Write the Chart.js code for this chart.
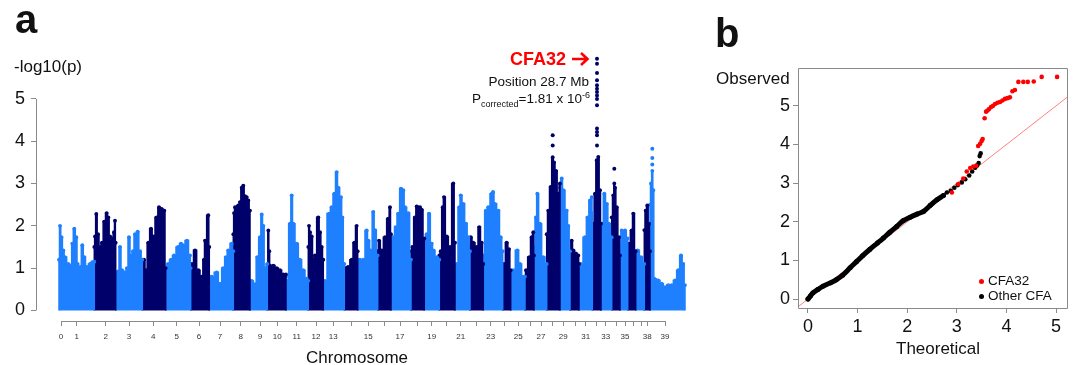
<!DOCTYPE html>
<html>
<head>
<meta charset="utf-8">
<script src="https://cdn.jsdelivr.net/npm/chart.js@4.4.1/dist/chart.umd.min.js"></script>
<style>
  body { margin: 0; width: 1073px; height: 365px; position: relative; background: #fff; overflow: hidden;
         font-family: 'Liberation Sans', Arial, sans-serif; color: #111; }
  .wrap { position: absolute; top: 0; height: 365px; }
  .t { position: absolute; line-height: 1; white-space: nowrap; }
  .t sub, .t sup { font-size: 9px; line-height: 0; }
  .dot { position: absolute; width: 5px; height: 5px; border-radius: 50%; }
</style>
</head>
<body>
<div class="wrap" style="left:0;width:700px"><canvas id="manhattan"></canvas></div>
<div class="wrap" style="left:700px;width:373px"><canvas id="qq"></canvas></div>

<div class="t" style="left:15px;top:-1px;font-size:40px;font-weight:bold">a</div>
<div class="t" style="left:715px;top:13px;font-size:40px;font-weight:bold">b</div>
<div class="t" style="left:14px;top:58px;font-size:17px">-log10(p)</div>
<div class="t" style="left:306px;top:349px;font-size:17px">Chromosome</div>
<div class="t" style="left:510px;top:50px;font-size:18px;font-weight:bold;color:#ff0000">CFA32</div>
<svg style="position:absolute;left:571px;top:51px" width="19" height="16" viewBox="0 0 19 16">
  <path d="M1 8 H16 M10 2 L16.5 8 L10 14" fill="none" stroke="#ff0000" stroke-width="2.6" stroke-linejoin="miter"/>
</svg>
<div class="t" style="right:484px;top:75px;font-size:13.5px">Position 28.7 Mb</div>
<div class="t" style="right:483px;top:92px;font-size:13.5px">P<sub>corrected</sub>=1.81 x 10<sup>-6</sup></div>
<div class="t" style="left:716px;top:70px;font-size:17px">Observed</div>
<div class="t" style="left:896px;top:340px;font-size:17px">Theoretical</div>
<span class="dot" style="left:979px;top:279px;background:#ff0000"></span>
<div class="t" style="left:988px;top:274px;font-size:13.5px">CFA32</div>
<span class="dot" style="left:979px;top:294px;background:#000"></span>
<div class="t" style="left:988px;top:289px;font-size:13.5px">Other CFA</div>

<script>
// panel a: upper outline of the point cloud of each chromosome block (cumulative position, -log10 p)
const blockSizes = [19, 14, 13, 11, 10, 9, 9, 11, 9, 9, 10, 10, 10, 6, 9, 7, 9, 7, 7, 8, 8, 7, 9, 5, 6, 6, 6, 8, 6, 6, 7, 7, 6, 7, 4, 5, 4, 5, 15];

const envPos = [
  -2, -1, 0.5, 2.3, 4, 7.3, 10, 11.3, 13.3, 15.3, 16.7, 18, 19.3, 21.3, 23.3, 25.7, 29, 31.3, 33.3,
  33.3, 34, 35.3, 37, 39, 41, 43.3, 45.7, 47.3, 49, 51.3, 53, 54, 54.7,
  54.7, 57, 59, 61, 64, 66, 68, 70, 72, 74, 76.7, 79, 81.3,
  81.3, 83, 85, 87.3, 90, 92.3, 95.7, 98, 100.7, 103.3, 104.7,
  104.7, 107, 110, 113, 117, 120, 122, 126, 129, 129.7,
  129.7, 131, 134, 137.3, 140.7, 143, 144, 147.3, 148.3,
  148.3, 150.7, 155.7, 159, 162.3, 165, 167.3, 170.7, 172.3,
  172.3, 173, 174, 177.3, 179, 180.7, 182.3, 184, 185.7, 187.3, 189,
  189, 190.7, 194, 196.3, 199, 200.7, 202.3, 204, 206.3,
  206.3, 207.3, 208.3, 209, 212.3, 215.7, 219, 222.3, 225,
  225, 226.3, 229, 230.7, 232.3, 235.7, 239, 242.3, 245.7, 247.3,
  247.3, 248, 249, 250.7, 252.3, 254, 257.3, 259, 260.7, 262.3,
  262.3, 264, 268, 270.7, 273.3, 275.7, 277.3, 280, 281.3, 283.3,
  283.3, 287, 290.7, 293.3, 295.7, 296.7,
  296.7, 299, 302.3, 305.7, 307.3, 310, 312.3, 314, 316.7,
  316.7, 318, 320.7, 324, 327.3, 329, 330,
  330, 332.3, 334.7, 337.3, 340, 342.3, 344, 347.3, 350,
  350, 351.3, 354, 355.7, 359, 360.7, 363.3,
  363.3, 365.7, 368, 370.7, 372.3, 375.7, 378.3,
  378.3, 379.7, 381.7, 383, 385.7, 389, 392.3, 394,
  394, 395.7, 398.3, 399.7, 402.3, 405, 407.3, 409,
  409, 409.7, 412.3, 415.7, 418.3, 420.7, 422.3,
  422.3, 425, 427.3, 430.7, 432, 434, 437.3, 439.7, 441.7,
  441.7, 443, 445.7, 448, 449.7,
  449.7, 452.3, 456.3, 459, 462.3, 464,
  464, 465, 468.3, 470.7, 472.3, 473,
  473, 475, 476.3, 479, 482.3, 485.7,
  485.7, 487.3, 489.7, 491.7, 493, 495, 497.3, 499,
  499, 500.7, 502.3, 505.7, 507.3, 509,
  509, 510.7, 512.3, 514.7, 517.3, 518,
  518, 520, 524, 526.7, 529, 530.7, 531.3,
  531.3, 532.3, 534, 535.7, 537.3, 539, 540,
  540, 541.3, 543.3, 545.7, 548, 550.7,
  550.7, 552.3, 553.3, 554, 555.7, 558, 559,
  559, 560.7, 564, 566.7,
  566.7, 568, 570.7, 572.3, 574.7,
  574.7, 576.7, 580, 583.3,
  583.3, 584.7, 586.3, 588, 589,
  589, 590, 591.3, 592.3, 593.3, 597.3, 600.7, 604, 607.3, 610.7, 614, 617.3, 620, 622.3, 624
];

const envLogP = [
  1.2, 2.0, 1.73, 1.42, 1.26, 1.1, 1.05, 1.58, 1.93, 1.73, 1.1, 0.71, 1.03, 1.54, 1.26, 1.03, 1.1, 1.14, 1.15,
  1.5, 1.75, 2.28, 1.8, 1.5, 1.6, 2.1, 2.3, 2.2, 1.75, 1.7, 1.85, 2.12, 1.6,
  0.9, 0.92, 1.5, 0.95, 0.9, 1.0, 1.73, 1.3, 1.4, 1.8, 1.86, 1.4, 1.2,
  1.1, 1.2, 0.95, 1.6, 1.93, 1.75, 2.2, 2.44, 2.4, 2.36, 1.0,
  0.95, 1.1, 1.2, 1.3, 1.5, 1.58, 1.54, 1.65, 1.3, 1.0,
  1.0, 1.1, 1.42, 0.95, 0.8, 1.2, 1.65, 2.25, 1.5,
  0.8, 0.8, 0.9, 0.63, 1.0, 1.26, 1.42, 1.58, 1.4,
  1.8, 2.3, 2.44, 2.48, 2.56, 2.9, 2.95, 2.7, 2.68, 2.6, 2.36,
  0.7, 0.7, 0.62, 1.26, 1.73, 2.27, 2.0, 1.0, 1.1,
  1.0, 1.89, 1.4, 1.06, 1.06, 1.0, 0.95, 0.85, 0.85,
  0.8, 0.7, 2.05, 2.72, 2.05, 1.58, 1.2, 0.95, 0.75, 0.7,
  1.5, 2.0, 1.85, 1.75, 1.2, 1.3, 2.2, 1.85, 1.5, 1.2,
  0.7, 0.7, 2.29, 2.44, 2.76, 3.27, 2.9, 2.68, 2.2, 1.1,
  1.0, 1.03, 1.2, 1.6, 2.0, 1.4,
  1.2, 1.2, 1.2, 1.89, 1.65, 1.42, 2.33, 1.9, 1.3,
  1.4, 1.65, 1.42, 1.73, 2.17, 2.44, 1.8,
  1.7, 1.73, 1.97, 2.29, 2.88, 2.84, 2.44, 2.3, 1.2,
  1.4, 1.5, 2.2, 2.46, 2.44, 2.38, 1.7,
  1.4, 1.8, 2.29, 1.58, 1.42, 1.26, 1.2,
  1.3, 1.4, 2.44, 2.68, 1.75, 1.5, 3.0, 1.6,
  1.0, 1.1, 2.44, 2.72, 2.52, 2.05, 1.73, 1.4,
  1.5, 1.73, 1.6, 1.5, 1.97, 1.6, 1.1,
  1.3, 2.36, 2.44, 2.76, 2.8, 2.52, 2.36, 1.73, 1.4,
  1.0, 1.1, 1.6, 1.45, 0.95,
  0.9, 0.95, 1.42, 1.1, 0.8, 0.8,
  0.8, 0.95, 1.26, 1.73, 1.85, 1.3,
  1.5, 2.2, 2.76, 2.05, 1.26, 1.1,
  1.8, 2.36, 2.92, 3.62, 3.5, 3.3, 2.76, 3.0,
  2.9, 3.12, 2.84, 2.36, 2.0, 1.4,
  1.2, 1.65, 1.42, 1.35, 1.3, 1.1,
  1.0, 1.1, 1.73, 2.2, 2.6, 2.68, 2.3,
  1.8, 2.05, 2.76, 3.55, 3.63, 2.84, 2.05,
  1.8, 2.05, 2.76, 2.52, 2.05, 1.73,
  2.2, 2.72, 3.0, 2.9, 2.44, 1.73, 1.3,
  1.5, 1.89, 1.89, 1.7,
  1.4, 1.58, 1.89, 2.29, 1.4,
  1.3, 1.42, 1.26, 1.1,
  1.9, 2.36, 2.48, 2.05, 1.4,
  2.5, 3.0, 3.3, 2.84, 0.75, 0.71, 0.63, 0.55, 0.6, 0.6, 0.71, 0.95, 1.3, 1.1, 0.6
];

// single points standing above the cloud
const darkDotPos = [536, 536, 536, 536, 536, 536, 536, 536, 536, 536, 536, 536, 536, 536, 491.7, 491.7, 553.3];
const darkDotLogP = [5.95, 5.83, 5.61, 5.44, 5.32, 5.24, 5.16, 5.08, 5.0, 4.85, 4.3, 4.22, 4.14, 3.9, 4.14, 3.9, 3.35];
const lightDotPos = [591.3, 591.3, 591.3];
const lightDotLogP = [3.82, 3.6, 3.45];

const chromTickPos = [0, 15.7, 44.7, 68, 92.3, 115.7, 138, 159, 179.7, 199, 216.3, 235.7, 255, 272.3, 290, 307.3, 323, 339, 356.3, 370.7,
  385, 399.7, 415.7, 429.7, 443.3, 457.3, 469, 480, 491.7, 502.3, 514, 524.7, 535.7, 544.7, 555, 564, 572.3, 580, 586.3, 604];
const chromTickLabels = ['0', '1', '2', '3', '4', '5', '6', '7', '8', '9', '10', '11', '12', '13', '', '15', '', '17', '', '19',
  '', '21', '', '23', '', '25', '', '27', '', '29', '', '31', '', '33', '', '35', '', '', '38', '39'];
const logPTicks = [0, 1, 2, 3, 4, 5];

// panel b: QQ plot
const otherBandTheo = [0, 0.05, 0.1, 0.2, 0.3, 0.45, 0.57, 0.7, 0.85, 0.98, 1.1, 1.25, 1.4, 1.52, 1.65, 1.79, 1.92, 2.06, 2.2, 2.33, 2.46, 2.6, 2.73];
const otherBandObs = [0, 0.08, 0.16, 0.25, 0.33, 0.42, 0.5, 0.62, 0.81, 0.97, 1.12, 1.29, 1.45, 1.58, 1.73, 1.88, 2.03, 2.12, 2.2, 2.27, 2.42, 2.57, 2.68];
const otherTailTheo = [2.8, 2.88, 2.95, 3.02, 3.1, 3.17, 3.25, 3.31, 3.37, 3.41, 3.44, 3.46, 3.48];
const otherTailObs = [2.76, 2.8, 2.88, 2.95, 3.02, 3.1, 3.2, 3.3, 3.4, 3.46, 3.52, 3.7, 3.77];
const cfa32Theo = [2.9, 3.03, 3.13, 3.2, 3.27, 3.33, 3.39, 3.43, 3.47, 3.5, 3.52, 3.56, 3.59, 3.62, 3.65, 3.69, 3.73, 3.77, 3.82, 3.87,
  3.92, 3.97, 4.02, 4.07, 4.12, 4.17, 4.24, 4.34, 4.43, 4.55, 4.71, 5.02];
const cfa32Obs = [2.76, 2.98, 3.12, 3.3, 3.39, 3.43, 3.45, 3.96, 4.02, 4.09, 4.14, 4.68, 4.85, 4.88, 4.92, 4.97, 5.0, 5.05, 5.08, 5.1,
  5.14, 5.18, 5.2, 5.22, 5.38, 5.41, 5.62, 5.62, 5.62, 5.63, 5.75, 5.75];
const qqTicks = [0, 1, 2, 3, 4, 5];

const lightBlue = '#1f80ff';
const navy = '#00006b';
const axisGrey = '#8a8a8a';

Chart.defaults.font.family = "'Liberation Sans', Arial, sans-serif";
Chart.defaults.color = '#111';

const toPoints = (xs, ys) => xs.map((x, i) => ({ x, y: ys[i] }));

// R-like axis lines that only run between the first and last tick, or a full box
const rAxes = {
  id: 'rAxes',
  afterDraw(chart, args, opts) {
    const { ctx, chartArea, scales } = chart;
    ctx.save();
    ctx.strokeStyle = axisGrey;
    ctx.lineWidth = 1;
    ctx.beginPath();
    if (opts.box) {
      ctx.rect(chartArea.left + 0.5, chartArea.top + 0.5, chartArea.right - chartArea.left, chartArea.bottom - chartArea.top);
    } else {
      const x0 = Math.round(chartArea.left) + 0.5;
      ctx.moveTo(x0, scales.y.getPixelForValue(opts.yFrom));
      ctx.lineTo(x0, scales.y.getPixelForValue(opts.yTo));
      const y0 = Math.round(chartArea.bottom) + 0.5;
      ctx.moveTo(scales.x.getPixelForValue(opts.xFrom), y0);
      ctx.lineTo(scales.x.getPixelForValue(opts.xTo), y0);
    }
    ctx.stroke();
    ctx.restore();
  }
};

// ----- panel a -----
const manhattanSets = [];
let k = 0;
blockSizes.forEach((n, b) => {
  const pts = toPoints(envPos.slice(k, k + n), envLogP.slice(k, k + n));
  k += n;
  const colour = b % 2 === 0 ? lightBlue : navy;
  manhattanSets.push({
    data: [{ x: pts[0].x, y: 0 }, ...pts, { x: pts[n - 1].x, y: 0 }],
    showLine: true,
    fill: 'origin',
    stepped: 'middle',
    backgroundColor: colour,
    borderColor: colour,
    borderWidth: 1.5,
    pointRadius: ctx => (ctx.dataIndex === 0 || ctx.dataIndex === n + 1) ? 0 : 1.9,
    pointBackgroundColor: colour,
    pointBorderWidth: 0,
    order: 2
  });
});
manhattanSets.push({
  data: toPoints(darkDotPos, darkDotLogP),
  pointRadius: 2, pointBackgroundColor: navy, pointBorderWidth: 0, order: 0
});
manhattanSets.push({
  data: toPoints(lightDotPos, lightDotLogP),
  pointRadius: 2, pointBackgroundColor: lightBlue, pointBorderWidth: 0, order: 0
});

new Chart(document.getElementById('manhattan'), {
  type: 'scatter',
  data: { datasets: manhattanSets },
  options: {
    responsive: true,
    maintainAspectRatio: false,
    animation: false,
    layout: { padding: { top: 46, right: 12, left: 0, bottom: 0 } },
    plugins: {
      legend: { display: false },
      tooltip: { enabled: false },
      rAxes: { xFrom: chromTickPos[0], xTo: chromTickPos[chromTickPos.length - 1], yFrom: 0, yTo: 5 }
    },
    scales: {
      x: {
        type: 'linear', min: -25, max: 627,
        afterBuildTicks: s => { s.ticks = chromTickPos.map(v => ({ value: v })); },
        afterFit: s => { s.height = 44; },
        ticks: {
          callback: (v, i) => chromTickLabels[i],
          autoSkip: false, minRotation: 0, maxRotation: 0,
          font: { size: 8 }, color: '#333', padding: 6
        },
        grid: { drawOnChartArea: false, drawTicks: true, tickLength: 5, color: axisGrey },
        border: { display: false }
      },
      y: {
        min: -0.25, max: 6.25,
        afterBuildTicks: s => { s.ticks = logPTicks.map(v => ({ value: v })); },
        afterFit: s => { s.width = 36; },
        ticks: { font: { size: 18 }, color: '#111', padding: 6 },
        grid: { drawOnChartArea: false, drawTicks: true, tickLength: 5, color: axisGrey },
        border: { display: false }
      }
    }
  },
  plugins: [rAxes]
});

// ----- panel b -----
const qxMin = -0.2, qxMax = 5.22;
new Chart(document.getElementById('qq'), {
  type: 'scatter',
  data: {
    datasets: [
      { label: 'CFA32', data: toPoints(cfa32Theo, cfa32Obs), pointRadius: 2.3, pointBackgroundColor: '#ff0000', pointBorderWidth: 0, order: 0 },
      { label: 'Other CFA', data: toPoints(otherTailTheo, otherTailObs), pointRadius: 2.3, pointBackgroundColor: '#000', pointBorderWidth: 0, order: 1 },
      { label: 'Other CFA band', data: toPoints(otherBandTheo, otherBandObs), showLine: true, borderColor: '#000', borderWidth: 5,
        borderCapStyle: 'round', borderJoinStyle: 'round', tension: 0.3, pointRadius: 2.5, pointBackgroundColor: '#000', pointBorderWidth: 0, order: 2 },
      { label: 'y = x', data: [{ x: qxMin, y: qxMin }, { x: qxMax + 1, y: qxMax + 1 }], showLine: true, borderColor: '#ff8080',
        borderWidth: 1, pointRadius: 0, order: 3 }
    ]
  },
  options: {
    responsive: true,
    maintainAspectRatio: false,
    animation: false,
    layout: { padding: { top: 68, right: 6, left: 0, bottom: 0 } },
    plugins: { legend: { display: false }, tooltip: { enabled: false }, rAxes: { box: true } },
    scales: {
      x: {
        type: 'linear', min: qxMin, max: qxMax,
        afterBuildTicks: s => { s.ticks = qqTicks.map(v => ({ value: v })); },
        afterFit: s => { s.height = 57; },
        ticks: { font: { size: 18 }, color: '#111', padding: 3, maxRotation: 0 },
        grid: { drawOnChartArea: false, drawTicks: true, tickLength: 5, color: axisGrey },
        border: { display: false }
      },
      y: {
        min: -0.23, max: 5.98,
        afterBuildTicks: s => { s.ticks = qqTicks.map(v => ({ value: v })); },
        afterFit: s => { s.width = 98; },
        ticks: { font: { size: 18 }, color: '#111', padding: 3 },
        grid: { drawOnChartArea: false, drawTicks: true, tickLength: 5, color: axisGrey },
        border: { display: false }
      }
    }
  },
  plugins: [rAxes]
});
</script>
</body>
</html>
